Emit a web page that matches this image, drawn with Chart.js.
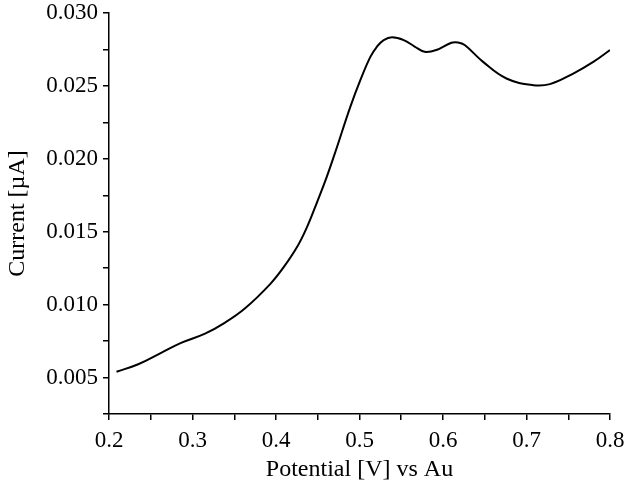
<!DOCTYPE html>
<html>
<head>
<meta charset="utf-8">
<script src="https://cdn.jsdelivr.net/npm/chart.js@4"></script>
<style>
  html, body { margin: 0; padding: 0; background: #fff; }
  #wrap { width: 630px; height: 493px; }
</style>
</head>
<body>
<div id="wrap"><canvas id="cvChart"></canvas></div>
<script>
// Potential (V vs Au) and current (µA)
const potential = [
  0.209, 0.235, 0.263, 0.287, 0.315, 0.339, 0.363, 0.393, 0.409,
  0.425, 0.437, 0.449, 0.461, 0.471, 0.489, 0.501, 0.513, 0.521, 0.529,
  0.539, 0.553, 0.566, 0.578, 0.592, 0.61, 0.618, 0.626, 0.648, 0.676,
  0.708, 0.728, 0.756, 0.78, 0.8,
];
const current = [
  0.0054, 0.00591, 0.00671, 0.00739, 0.00801, 0.00877, 0.00975, 0.01141, 0.01255,
  0.01393, 0.0153, 0.017, 0.0188, 0.02046, 0.02356, 0.02539, 0.02699, 0.0277, 0.02814,
  0.02833, 0.02814, 0.0277, 0.02734, 0.02746, 0.02796, 0.02798, 0.0278, 0.02665, 0.02551,
  0.02505, 0.02512, 0.02585, 0.02665, 0.02746,
];
const xTickLabels = ["0.2", "0.3", "0.4", "0.5", "0.6", "0.7", "0.8"];
const yTickLabels = ["0.005", "0.010", "0.015", "0.020", "0.025", "0.030"];

const points = potential.map((x, i) => ({ x: x, y: current[i] }));
const serif = "'Liberation Serif', 'Times New Roman', serif";

new Chart(document.getElementById("cvChart"), {
  type: "line",
  data: {
    datasets: [
      {
        data: points,
        borderColor: "#000",
        borderWidth: 2,
        pointRadius: 0,
        fill: false,
        tension: 0.4,
      },
    ],
  },
  options: {
    responsive: true,
    maintainAspectRatio: false,
    animation: false,
    layout: { padding: { top: 13, right: 20, left: 0, bottom: 0 } },
    plugins: { legend: { display: false }, tooltip: { enabled: false } },
    scales: {
      x: {
        type: "linear",
        min: 0.2,
        max: 0.8,
        afterFit: (scale) => {
          scale.height = 79;
          scale.paddingLeft = 0;
          scale.paddingRight = 0;
        },
        border: { display: true, color: "#000", width: 1.5 },
        grid: { drawOnChartArea: false, drawTicks: true, tickLength: 6, color: "#000", lineWidth: 1.5 },
        ticks: {
          stepSize: 0.05,
          padding: 7,
          color: "#000",
          font: { family: serif, size: 23 },
          maxRotation: 0,
          autoSkip: false,
          callback: function (value, index) {
            return index % 2 === 0 ? xTickLabels[index / 2] : "";
          },
        },
        title: {
          display: true,
          text: "Potential [V] vs Au",
          color: "#000",
          font: { family: serif, size: 24 },
          padding: { top: 0, bottom: 9 },
        },
      },
      y: {
        type: "linear",
        min: 0.0025,
        max: 0.03,
        afterFit: (scale) => {
          scale.width = 109;
          scale.paddingTop = 0;
          scale.paddingBottom = 0;
        },
        border: { display: true, color: "#000", width: 1.5 },
        grid: { drawOnChartArea: false, drawTicks: true, tickLength: 6, color: "#000", lineWidth: 1.5 },
        ticks: {
          stepSize: 0.0025,
          padding: 5,
          color: "#000",
          font: { family: serif, size: 23 },
          autoSkip: false,
          callback: function (value, index) {
            return index % 2 === 1 ? yTickLabels[(index - 1) / 2] : "";
          },
        },
        title: {
          display: true,
          text: "Current [µA]",
          color: "#000",
          font: { family: serif, size: 24 },
          padding: { top: 3, bottom: 0 },
        },
      },
    },
  },
});
</script>
</body>
</html>
